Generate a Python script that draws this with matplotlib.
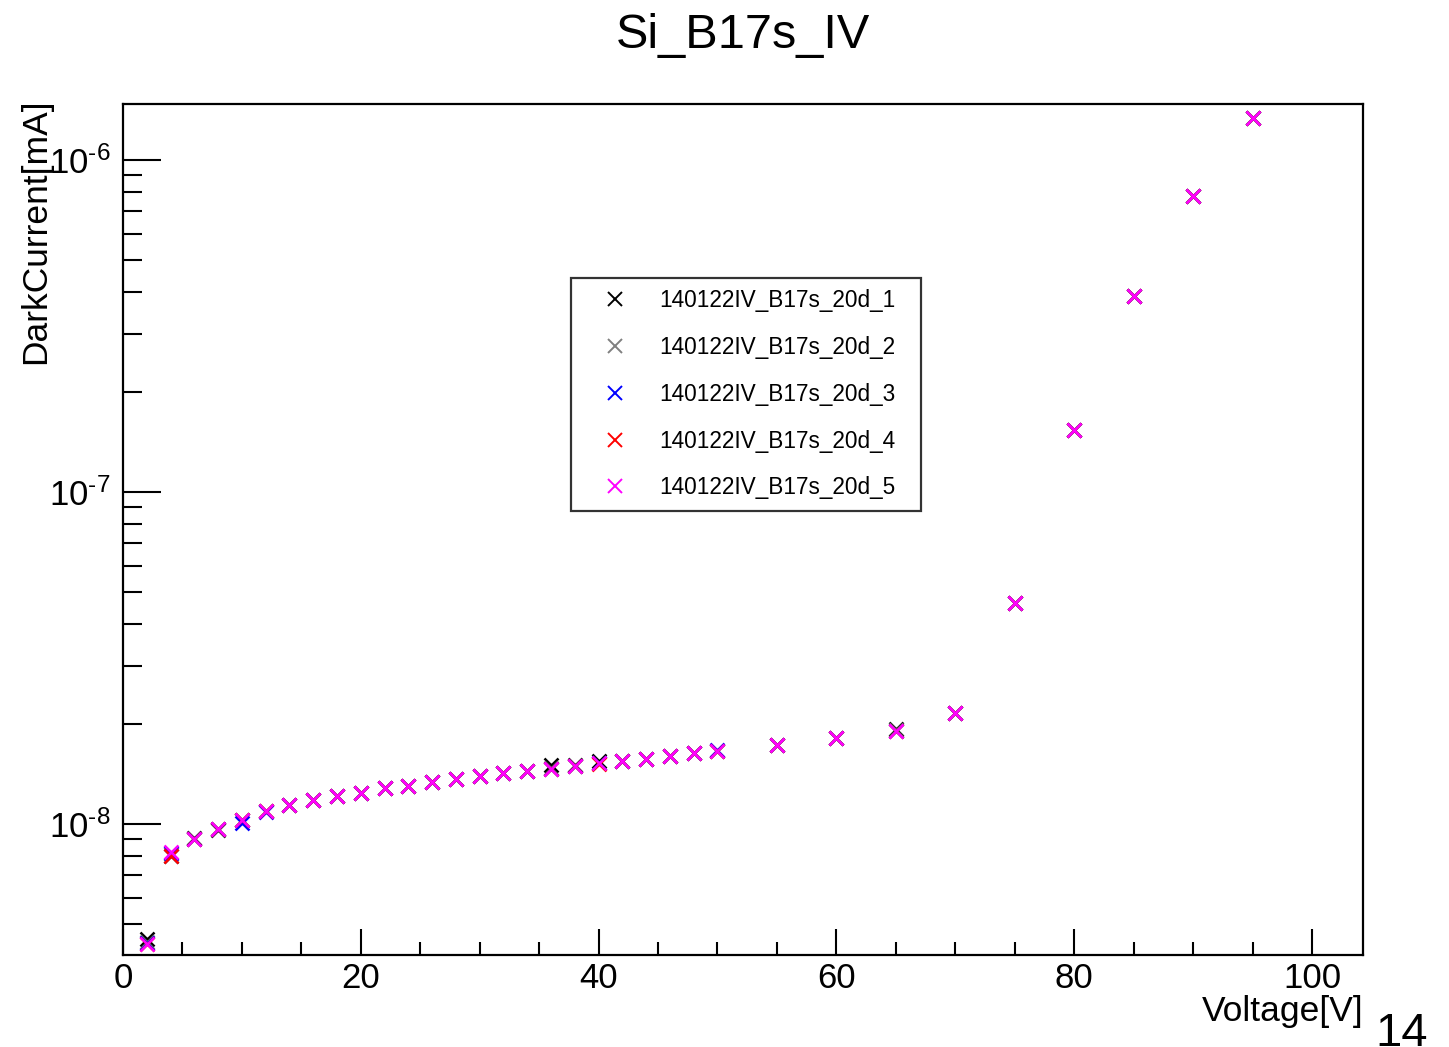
import numpy as np
import matplotlib
matplotlib.use("Agg")
import matplotlib.pyplot as plt
from matplotlib.ticker import FixedLocator, MultipleLocator, NullFormatter

plt.rcParams['font.family'] = ['Liberation Sans', 'DejaVu Sans']
plt.rcParams['mathtext.fontset'] = 'custom'
plt.rcParams['mathtext.rm'] = 'Liberation Sans'
plt.rcParams['mathtext.it'] = 'Liberation Sans:italic'
plt.rcParams['mathtext.default'] = 'regular'

# voltage points [V]
voltage = [2, 4, 6, 8, 10, 12, 14, 16, 18, 20, 22, 24, 26, 28, 30, 32, 34,
           36, 38, 40, 42, 44, 46, 48, 50, 55, 60, 65, 70, 75, 80, 85, 90, 95]

# dark current in units of 1e-8 mA, one list per run
run1 = [0.450, 0.801, 0.905, 0.962, 1.028, 1.094, 1.141, 1.181, 1.214, 1.240, 1.284, 1.302,
        1.340, 1.370, 1.398, 1.424, 1.446, 1.505, 1.500, 1.548, 1.548, 1.569, 1.604, 1.636,
        1.659, 1.730, 1.816, 1.932, 2.160, 4.63, 15.37, 38.95, 77.9, 133.8]
run2 = [0.440, 0.810, 0.900, 0.966, 1.025, 1.094, 1.141, 1.181, 1.214, 1.240, 1.284, 1.302,
        1.338, 1.366, 1.395, 1.424, 1.444, 1.470, 1.495, 1.530, 1.548, 1.569, 1.602, 1.636,
        1.659, 1.730, 1.816, 1.915, 2.160, 4.63, 15.37, 38.95, 77.9, 133.8]
run3 = [0.438, 0.815, 0.901, 0.966, 1.007, 1.090, 1.138, 1.178, 1.214, 1.240, 1.284, 1.302,
        1.338, 1.366, 1.395, 1.424, 1.444, 1.464, 1.495, 1.526, 1.552, 1.569, 1.602, 1.636,
        1.665, 1.730, 1.816, 1.906, 2.160, 4.63, 15.37, 38.95, 77.9, 133.8]
run4 = [0.436, 0.801, 0.898, 0.966, 1.028, 1.094, 1.141, 1.181, 1.214, 1.240, 1.280, 1.300,
        1.338, 1.366, 1.395, 1.424, 1.444, 1.464, 1.495, 1.520, 1.548, 1.569, 1.602, 1.636,
        1.659, 1.730, 1.816, 1.906, 2.160, 4.63, 15.37, 38.95, 77.9, 133.8]
run5 = [0.435, 0.823, 0.901, 0.966, 1.028, 1.094, 1.141, 1.181, 1.214, 1.240, 1.284, 1.302,
        1.338, 1.366, 1.395, 1.424, 1.444, 1.464, 1.495, 1.526, 1.548, 1.569, 1.602, 1.636,
        1.659, 1.730, 1.816, 1.906, 2.160, 4.63, 15.37, 38.95, 77.9, 133.8]

labels = ['140122IV_B17s_20d_1', '140122IV_B17s_20d_2', '140122IV_B17s_20d_3',
          '140122IV_B17s_20d_4', '140122IV_B17s_20d_5']
colors = ['#000000', '#808080', '#0000ff', '#ff0000', '#ff00ff']
runs = [run1, run2, run3, run4, run5]

fig = plt.figure(figsize=(14.49, 10.47), dpi=100)
ax = fig.add_axes([0.0849, 0.0879, 0.8558, 0.8128])

for run, lab, col in zip(runs, labels, colors):
    ax.plot(voltage, np.array(run) * 1e-8, linestyle='none', marker='x',
            markersize=10, markeredgewidth=1.8, color=col, label=lab)

ax.set_yscale('log')
ax.set_xlim(0, 104.3)
ax.set_ylim(4.03e-9, 1.475e-6)

# ticks in ROOT style
ax.xaxis.set_major_locator(MultipleLocator(20))
ax.xaxis.set_minor_locator(MultipleLocator(5))
ax.yaxis.set_major_locator(FixedLocator([1e-8, 1e-7, 1e-6]))
ax.yaxis.set_major_formatter(plt.FixedFormatter(['$10^{\u20108}$', '$10^{\u20107}$', '$10^{\u20106}$']))
minors = [m * 10.0 ** e for e in (-9, -8, -7, -6) for m in range(2, 10)]
ax.yaxis.set_minor_locator(FixedLocator(minors))
ax.yaxis.set_minor_formatter(NullFormatter())

ax.tick_params(axis='x', which='major', direction='in', length=19, width=1.5,
               labelsize=25, pad=5, top=False)
ax.tick_params(axis='x', which='minor', direction='in', length=9.5, width=1.5, top=False)
ax.tick_params(axis='y', which='major', direction='in', length=27, width=1.5,
               labelsize=25, pad=9, right=False)
ax.tick_params(axis='y', which='minor', direction='in', length=13.5, width=1.5, right=False)
for s in ax.spines.values():
    s.set_linewidth(1.6)

ax.set_xlabel('Voltage[V]', fontsize=25.5, loc='right')
ax.xaxis.set_label_coords(1.0, -0.047)
ax.set_ylabel('DarkCurrent[mA]', fontsize=25.5, loc='top')
ax.yaxis.set_label_coords(-0.057, 1.006)

leg = ax.legend(loc='upper left', bbox_to_anchor=(0.361, 0.524, 0.2825, 0.2715),
                mode='expand', borderaxespad=0, fontsize=16.3, frameon=True, fancybox=False,
                borderpad=0.5, labelspacing=1.05, handlelength=2.9, handletextpad=0.5,
                markerscale=1.05)
leg.get_frame().set_edgecolor('black')
leg.get_frame().set_linewidth(1.6)
for h in leg.legend_handles:
    h.set_markeredgewidth(1.4)

fig.text(0.5128, 1 - 35 / 1047, 'Si_B17s_IV', fontsize=35, ha='center', va='center')
fig.text(1375 / 1449, 0.033, '14', fontsize=34, ha='left', va='top')

fig.savefig('out.png', dpi=100)
